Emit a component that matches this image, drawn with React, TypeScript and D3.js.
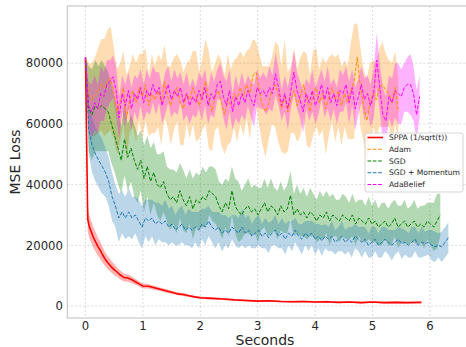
import React from 'react';
import * as d3 from 'd3';

const W = 466;
const H = 347;
const PLOT = { left: 67.3, right: 466.5, top: 6, bottom: 318 };

const X_DOMAIN: [number, number] = [-0.316, 6.636];
const Y_DOMAIN: [number, number] = [-3960, 98850];
const X_TICKS = [0, 1, 2, 3, 4, 5, 6];
const Y_TICKS = [0, 20000, 40000, 60000, 80000];

// Series values are in thousands of MSE units.
const SPPA_T = [
  0, 0.04, 0.07, 0.1, 0.14, 0.18, 0.22, 0.26, 0.3, 0.35,
  0.4, 0.45, 0.5, 0.55, 0.6, 0.67, 0.74, 0.8, 0.87, 0.94,
  1.0, 1.1, 1.2, 1.3, 1.4, 1.5, 1.6, 1.7, 1.8, 1.9,
  2.0, 2.2, 2.4, 2.6, 2.8, 3.0, 3.2, 3.4, 3.6, 3.8,
  4.0, 4.2, 4.4, 4.6, 4.8, 5.0, 5.2, 5.4, 5.6, 5.85,
];
const SPPA_MEAN = [
  82, 28.5, 26, 24.5, 22.5, 21, 19.5, 18.3, 16.8, 15.2,
  14, 12.9, 12, 11.2, 10.3, 9.4, 9.2, 8.7, 8.0, 7.2,
  6.6, 6.5, 6.0, 5.5, 5.0, 4.5, 4.0, 3.8, 3.4, 3.0,
  2.7, 2.5, 2.3, 2.0, 1.8, 1.6, 1.7, 1.5, 1.4, 1.5,
  1.3, 1.4, 1.2, 1.3, 1.1, 1.3, 1.1, 1.2, 1.1, 1.2,
];
const SPPA_STD = [
  0, 4, 3.8, 3.6, 3.4, 3.2, 3.0, 2.8, 2.6, 2.3,
  2.1, 1.9, 1.8, 1.6, 1.5, 1.3, 1.2, 1.1, 1.0, 0.9,
  0.8, 0.7, 0.7, 0.6, 0.6, 0.5, 0.5, 0.5, 0.4, 0.4,
  0.4, 0.35, 0.35, 0.3, 0.3, 0.3, 0.3, 0.3, 0.3, 0.3,
  0.3, 0.3, 0.3, 0.3, 0.3, 0.3, 0.3, 0.3, 0.3, 0.3,
];

const ADAM_END = 5.45;
const ADAM_MEAN = [
  82, 70, 68, 69, 71, 73, 72, 74, 75, 70,
  64, 67, 72, 62, 68, 71, 67, 72, 69, 73,
  66, 70, 68, 71, 67, 74, 69, 66, 70, 72,
  67, 65, 70, 68, 72, 69, 66, 70, 74, 68,
  64, 69, 71, 67, 63, 68, 66, 70, 68, 72,
  69, 73, 70, 76, 77, 71, 66, 64, 67, 71,
  73, 70, 65, 69, 64, 68, 71, 66, 69, 73,
  68, 64, 70, 72, 67, 70, 65, 69, 72, 68,
  71, 66, 70, 67, 71, 74, 82, 72, 66, 61,
  67, 70, 68, 72, 73, 71, 70, 67, 72, 64,
];
const ADAM_STD = [
  0, 10, 12, 13, 14, 15, 16, 17, 17, 15,
  14, 13, 12, 14, 11, 12, 13, 11, 14, 12,
  10, 13, 11, 12, 14, 12, 10, 13, 12, 11,
  14, 12, 10, 13, 12, 15, 11, 12, 14, 16,
  13, 11, 12, 14, 13, 15, 12, 11, 14, 12,
  13, 11, 15, 12, 10, 12, 13, 15, 12, 11,
  14, 16, 14, 19, 13, 11, 14, 12, 13, 11,
  15, 12, 14, 13, 11, 12, 15, 13, 11, 14,
  12, 13, 11, 12, 16, 19, 11, 13, 12, 14,
  13, 11, 12, 13, 14, 12, 11, 13, 12, 11,
];

const SGD_END = 6.18;
const SGD_MEAN = [
  82, 65, 63, 66, 65, 66, 65, 64, 60, 56,
  52, 48, 55, 49, 52, 48, 45, 48, 42, 46,
  41, 44, 40, 39, 41, 37, 35, 36, 34, 38,
  35, 33, 36, 32, 35, 34, 36, 35, 38, 37,
  36, 33, 31, 34, 32, 38, 33, 31, 30, 32,
  33, 31, 32, 30, 32, 34, 31, 33, 32, 30,
  33, 31, 32, 36.5, 30, 32, 30, 31, 29, 31,
  30, 28, 30, 29, 31, 28, 30, 29, 28, 30,
  29, 28, 30, 27, 29, 28, 27, 29, 27, 28,
  26, 27, 28, 26, 27, 29, 26, 27, 28, 26,
  27, 28, 26, 27, 26, 28, 27, 26, 28, 30,
];
const SGD_STD = [
  0, 14, 15, 15, 14, 15, 14, 13, 13, 12,
  12, 11, 12, 11, 11, 12, 11, 10, 11, 10,
  11, 10, 10, 11, 10, 9, 10, 9, 10, 9,
  10, 9, 9, 10, 9, 9, 10, 9, 8, 9,
  9, 8, 9, 8, 9, 8, 9, 10, 8, 8,
  9, 8, 8, 9, 7, 8, 8, 9, 7, 8,
  8, 7, 8, 8, 7, 8, 7, 8, 7, 8,
  7, 7, 8, 7, 7, 8, 7, 6, 7, 7,
  7, 6, 7, 7, 6, 7, 6, 7, 6, 7,
  6, 7, 6, 6, 7, 6, 7, 6, 7, 6,
  6, 7, 6, 6, 7, 6, 7, 8, 9, 7,
];

const MOM_END = 6.32;
const MOM_MEAN = [
  82, 58, 53, 50, 48, 46, 44, 41, 36, 33,
  29, 31, 29, 31, 29, 30, 28, 26, 29, 28,
  29, 27, 28, 27, 28, 26, 27, 25, 26, 27,
  25, 26, 25, 26, 25, 27, 26, 28, 26, 25,
  26, 24, 25, 24, 26, 25, 24, 26, 24, 25,
  23, 24, 25, 23, 24, 22.5, 24, 25, 23, 24,
  22, 24, 23, 25, 23, 22, 24, 23, 24, 22,
  23, 21.5, 23, 22, 23, 21, 22, 23, 21, 22,
  21, 23, 22, 21, 22, 20, 21, 22, 20, 21,
  22, 21, 20, 21, 22, 20.5, 21, 20, 21, 22,
  20, 21, 20.5, 21, 20, 19.5, 20, 19.5, 21, 22.5,
];
const MOM_STD = [
  0, 8, 9, 9, 9, 9, 8, 8, 8, 7,
  8, 7, 7, 8, 7, 6, 7, 7, 6, 7,
  6, 7, 6, 6, 7, 6, 6, 5, 6, 6,
  5, 6, 6, 5, 6, 5, 6, 5, 5, 6,
  5, 6, 5, 5, 4, 5, 5, 6, 5, 5,
  4, 5, 5, 4, 5, 5, 4, 5, 4, 5,
  5, 4, 5, 4, 4, 5, 4, 5, 4, 5,
  4, 5, 4, 4, 5, 4, 4, 5, 4, 4,
  5, 4, 4, 5, 4, 4, 5, 4, 4, 5,
  4, 4, 5, 4, 4, 5, 4, 4, 5, 4,
  4, 5, 4, 4, 5, 5, 4, 5, 5, 5,
];

const ADAB_END = 5.82;
const ADAB_MEAN = [
  82, 66, 64, 67, 65, 70, 69, 73, 74, 75.5,
  71, 62, 70, 66, 71, 65, 70, 68, 72, 67,
  71, 69, 73, 70, 72, 66, 70, 73, 68, 71,
  69, 72, 67, 70, 66, 69, 67, 71, 68, 72,
  66, 70, 68, 73, 74, 69, 66, 71, 64, 69,
  66, 70, 67, 71, 68, 66, 72, 70, 71, 69,
  72, 70, 76.5, 72, 66, 70, 65, 71, 77, 71,
  68, 64, 70, 67, 71, 66, 69, 73, 68, 72,
  67, 70, 66, 71, 70, 73, 67, 72, 65, 69,
  73, 68, 70, 66, 70, 81, 72, 63, 61, 69,
  67, 71, 70, 69, 72, 73, 73, 70, 63, 69,
];
const ADAB_STD = [
  0, 8, 9, 9, 8, 9, 8, 8, 7, 7,
  8, 7, 6, 7, 6, 7, 6, 7, 6, 6,
  7, 6, 6, 7, 5, 6, 7, 6, 6, 7,
  6, 5, 6, 7, 6, 6, 5, 6, 7, 6,
  6, 7, 6, 5, 6, 7, 8, 7, 6, 7,
  6, 7, 6, 5, 6, 7, 6, 5, 6, 6,
  7, 6, 7, 6, 5, 6, 7, 6, 7, 6,
  6, 7, 5, 6, 7, 6, 6, 5, 6, 7,
  6, 5, 6, 7, 6, 6, 7, 6, 7, 6,
  6, 7, 6, 7, 8, 9, 8, 9, 8, 7,
  8, 9, 10, 9, 8, 9, 10, 9, 8, 7,
];

const evenTimes = (n: number, end: number) => d3.range(n).map((i) => (i * end) / (n - 1));

type Series = {
  name: string;
  color: string;
  t: number[];
  mean: number[];
  std: number[];
  dashed: boolean;
  lw: number;
  alpha: number;
};

const SERIES: Series[] = [
  { name: 'SPPA (1/sqrt(t))', color: '#ff0000', t: SPPA_T, mean: SPPA_MEAN, std: SPPA_STD, dashed: false, lw: 1.6, alpha: 0.3 },
  { name: 'Adam', color: '#ff8c00', t: evenTimes(ADAM_MEAN.length, ADAM_END), mean: ADAM_MEAN, std: ADAM_STD, dashed: true, lw: 1, alpha: 0.3 },
  { name: 'SGD', color: '#008000', t: evenTimes(SGD_MEAN.length, SGD_END), mean: SGD_MEAN, std: SGD_STD, dashed: true, lw: 1, alpha: 0.3 },
  { name: 'SGD + Momentum', color: '#1f77b4', t: evenTimes(MOM_MEAN.length, MOM_END), mean: MOM_MEAN, std: MOM_STD, dashed: true, lw: 1, alpha: 0.3 },
  { name: 'AdaBelief', color: '#ff00ff', t: evenTimes(ADAB_MEAN.length, ADAB_END), mean: ADAB_MEAN, std: ADAB_STD, dashed: true, lw: 1, alpha: 0.3 },
];

const FONT = '"DejaVu Sans", sans-serif';

export default function App() {
  const x = d3.scaleLinear().domain(X_DOMAIN).range([PLOT.left, PLOT.right]);
  const y = d3.scaleLinear().domain(Y_DOMAIN).range([PLOT.bottom, PLOT.top]);

  const rows = (s: Series) =>
    s.mean.map((m, i) => ({ t: s.t[i], m: m * 1000, sd: s.std[i] * 1000 }));

  const area = d3
    .area<{ t: number; m: number; sd: number }>()
    .x((d) => x(d.t))
    .y0((d) => y(d.m - d.sd))
    .y1((d) => y(d.m + d.sd));
  const line = d3
    .line<{ t: number; m: number; sd: number }>()
    .x((d) => x(d.t))
    .y((d) => y(d.m));

  const legendX = 365;
  const legendY = 133;
  const legendW = 98;
  const legendH = 59;
  const rowGap = 11.75;

  return (
    <svg
      width={W}
      height={H}
      style={{ position: 'absolute', left: 0, top: 0, background: '#fff' }}
      fontFamily={FONT}
    >
      <defs>
        <clipPath id="plot-clip">
          <rect x={PLOT.left} y={PLOT.top} width={PLOT.right - PLOT.left} height={PLOT.bottom - PLOT.top} />
        </clipPath>
      </defs>
      <rect x={0} y={0} width={W} height={H} fill="#fff" />

      {/* grid */}
      <g stroke="#b0b0b0" strokeOpacity={0.6} strokeWidth={0.8} strokeDasharray="2,2">
        {X_TICKS.map((t) => (
          <line key={`gx${t}`} x1={x(t)} x2={x(t)} y1={PLOT.top} y2={PLOT.bottom} />
        ))}
        {Y_TICKS.map((v) => (
          <line key={`gy${v}`} x1={PLOT.left} x2={PLOT.right} y1={y(v)} y2={y(v)} />
        ))}
      </g>

      {/* std bands, then mean lines on top */}
      <g clipPath="url(#plot-clip)">
        {SERIES.map((s) => (
          <path key={`band-${s.name}`} d={area(rows(s)) || ''} fill={s.color} fillOpacity={s.alpha} stroke="none" />
        ))}
        {SERIES.map((s) => (
          <path
            key={`line-${s.name}`}
            d={line(rows(s)) || ''}
            fill="none"
            stroke={s.color}
            strokeWidth={s.lw}
            strokeDasharray={s.dashed ? '3.7,1.6' : undefined}
            strokeLinejoin="round"
          />
        ))}
      </g>

      {/* frame */}
      <rect
        x={PLOT.left}
        y={PLOT.top}
        width={PLOT.right - PLOT.left}
        height={PLOT.bottom - PLOT.top}
        fill="none"
        stroke="#bdbdbd"
        strokeWidth={1}
      />

      {/* tick labels */}
      <g fontSize={11.7} fill="#262626">
        {X_TICKS.map((t) => (
          <text key={`tx${t}`} x={x(t)} y={329.5} textAnchor="middle">
            {t}
          </text>
        ))}
        {Y_TICKS.map((v) => (
          <text key={`ty${v}`} x={63} y={y(v)} dy="0.36em" textAnchor="end">
            {v}
          </text>
        ))}
      </g>

      {/* axis titles */}
      <text x={265} y={344.5} textAnchor="middle" fontSize={14} fill="#262626">
        Seconds
      </text>
      <text
        transform={`translate(20, ${(PLOT.top + PLOT.bottom) / 2}) rotate(-90)`}
        textAnchor="middle"
        fontSize={14}
        fill="#262626"
      >
        MSE Loss
      </text>

      {/* legend */}
      <g>
        <rect
          x={legendX}
          y={legendY}
          width={legendW}
          height={legendH}
          rx={2}
          fill="#fff"
          fillOpacity={0.8}
          stroke="#cccccc"
          strokeWidth={0.8}
        />
        {SERIES.map((s, i) => {
          const cy = legendY + 4.5 + i * rowGap;
          return (
            <g key={`lg-${s.name}`}>
              <line
                x1={legendX + 2.5}
                x2={legendX + 18}
                y1={cy}
                y2={cy}
                stroke={s.color}
                strokeWidth={s.dashed ? 1 : 1.6}
                strokeDasharray={s.dashed ? '3.7,1.6' : undefined}
              />
              <text x={legendX + 24} y={cy} dy="0.35em" fontSize={7.6} fill="#262626">
                {s.name}
              </text>
            </g>
          );
        })}
      </g>
    </svg>
  );
}
